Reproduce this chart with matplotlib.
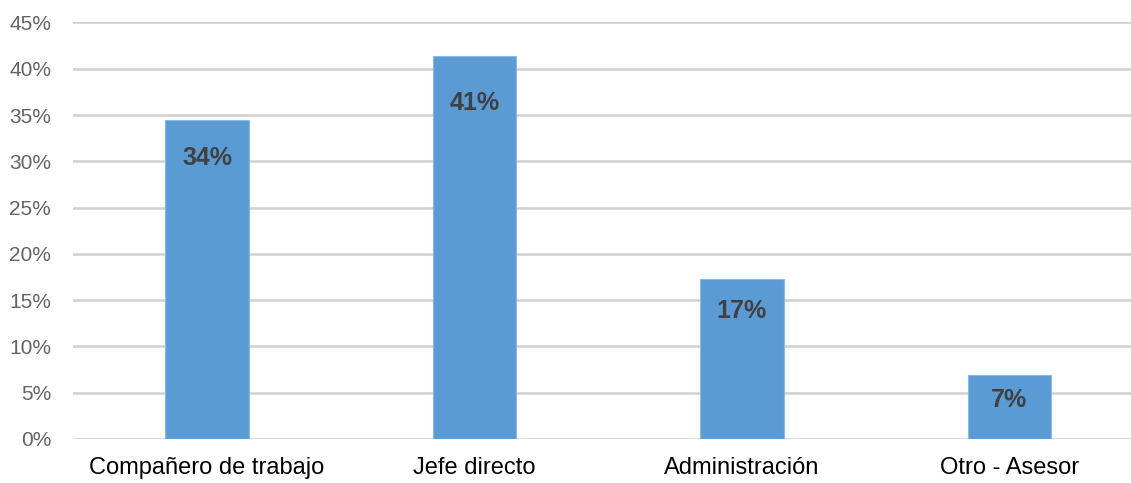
import matplotlib
matplotlib.use("Agg")
import matplotlib.pyplot as plt
from matplotlib.ticker import PercentFormatter, MultipleLocator

categories = ["Compañero de trabajo", "Jefe directo", "Administración", "Otro - Asesor"]
values = [34.5, 41.4, 17.3, 6.9]

plt.rcParams['font.family'] = ['Liberation Sans', 'DejaVu Sans']

W, H = 1131, 483
fig = plt.figure(figsize=(W / 100, H / 100), dpi=100)
# plot area runs slightly past the right border, so the grid reaches the edge
ax = fig.add_axes([73.25 / W, 1 - 439 / H, 1070 / W, (439 - 22.5) / H])

x = list(range(len(categories)))
bars = ax.bar(x, values, width=0.314, color="#5B9BD5", edgecolor="#8DB8E3",
              linewidth=0.8, zorder=3)

# downward offsets (pixels) of each value label from the top of its bar
label_drop = [38, 47, 32, 25]
for b, v, d in zip(bars, values, label_drop):
    ax.annotate(f"{round(v):.0f}%", (b.get_x() + b.get_width() / 2, v),
                xytext=(0, -d), textcoords="offset pixels",
                ha="center", va="center", fontsize=18, fontweight="bold",
                color="#404040", zorder=4)

ax.set_xlim(-0.5, len(categories) - 0.5)
ax.set_ylim(0, 45)
ax.yaxis.set_major_locator(MultipleLocator(5))
ax.yaxis.set_major_formatter(PercentFormatter(decimals=0))
ax.set_xticks(x)
ax.set_xticklabels(categories)

ax.grid(axis="y", color="#D0D0D0", linewidth=1.8, zorder=0)
for s in ax.spines.values():
    s.set_visible(False)
ax.tick_params(axis="both", length=0)
ax.tick_params(axis="y", labelsize=15, labelcolor="#636363", pad=16)
ax.tick_params(axis="x", labelsize=17, labelcolor="#000000", pad=13)

fig.savefig("out.png", dpi=100)
